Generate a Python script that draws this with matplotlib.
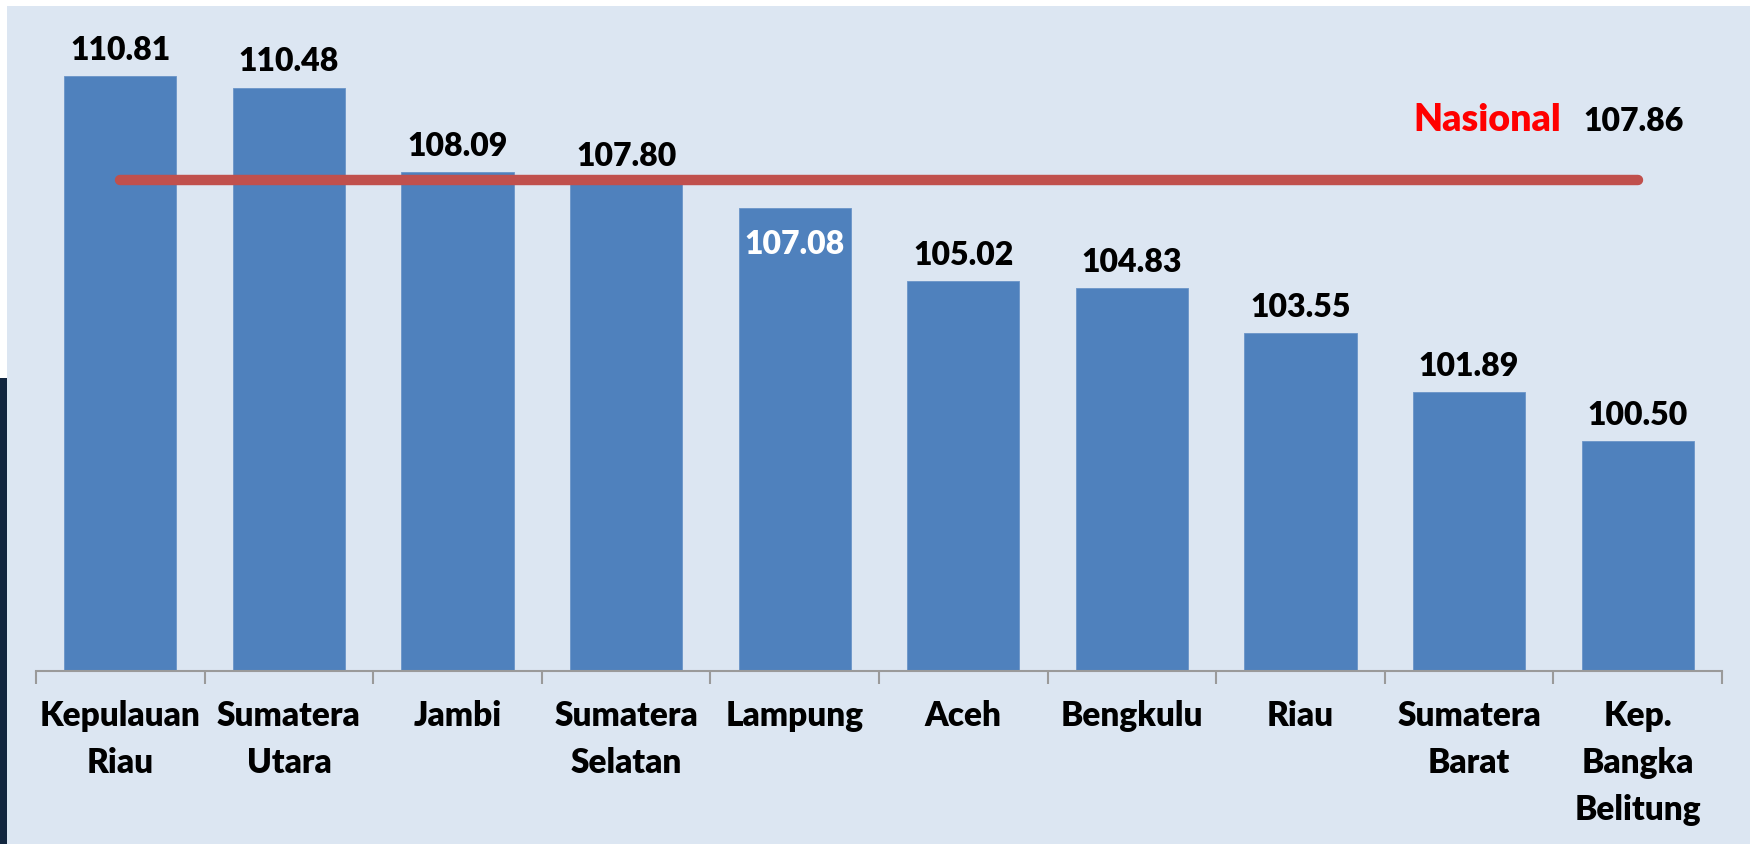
import matplotlib
matplotlib.use("Agg")
import matplotlib.pyplot as plt
from matplotlib.patches import Rectangle

categories = ["Kepulauan\nRiau", "Sumatera\nUtara", "Jambi", "Sumatera\nSelatan", "Lampung",
              "Aceh", "Bengkulu", "Riau", "Sumatera\nBarat", "Kep.\nBangka\nBelitung"]
values = [110.81, 110.48, 108.09, 107.80, 107.08, 105.02, 104.83, 103.55, 101.89, 100.50]
value_labels = ["110.81", "110.48", "108.09", "107.80", "107.08", "105.02", "104.83", "103.55", "101.89", "100.50"]
national_value = 107.86
national_label = "107.86"
inside_label_index = 4  # Lampung label drawn inside the bar

W, H = 1750, 844
plt.rcParams['font.family'] = ['Lato', 'DejaVu Sans']
WEIGHT = 'heavy'
fig = plt.figure(figsize=(W / 100, H / 100), dpi=100, facecolor='white')

bg = '#DCE6F2'
fig.patches.append(Rectangle((7 / W, 0), 1 - 7 / W, (H - 6) / H, transform=fig.transFigure,
                             facecolor=bg, edgecolor='none', zorder=-5))
fig.patches.append(Rectangle((0, 0), 7 / W, (H - 378) / H, transform=fig.transFigure,
                             facecolor='#12263F', edgecolor='none', zorder=-5))

left, right = 36 / W, 1722 / W
bottom, top = (H - 671) / H, (H - 6) / H
ax = fig.add_axes([left, bottom, right - left, top - bottom])
ax.set_zorder(5)
ax.set_facecolor('none')

ymin = 94.0
px_per_unit = 35.4
ymax = ymin + (671 - 6) / px_per_unit
ax.set_ylim(ymin, ymax)
ax.set_xlim(-0.5, len(categories) - 0.5)

x = list(range(len(categories)))
ax.bar(x, [v - ymin for v in values], bottom=ymin, width=0.665, color='#4F81BD',
       edgecolor='#6A94C8', linewidth=0.6, zorder=2)

ax.plot([0, len(categories) - 1], [national_value, national_value], color='#C0504D',
        linewidth=7.5, solid_capstyle='round', zorder=3)

for i, (v, lab) in enumerate(zip(values, value_labels)):
    if i == inside_label_index:
        ax.annotate(lab, (i, v), xytext=(0, -26), textcoords='offset points',
                    ha='center', va='center', fontsize=23, fontweight=WEIGHT, color='white', zorder=4)
    else:
        ax.annotate(lab, (i, v), xytext=(0, 8), textcoords='offset points',
                    ha='center', va='bottom', fontsize=23, fontweight=WEIGHT, color='black', zorder=4)

ax.text(7.667, ymin + (671 - 131) / px_per_unit, "Nasional", color='#FF0000', fontsize=27,
        fontweight=WEIGHT, ha='left', va='baseline', zorder=4)
ax.text(8.676, ymin + (671 - 131) / px_per_unit, national_label, color='black', fontsize=23,
        fontweight=WEIGHT, ha='left', va='baseline', zorder=4)

for s in ['top', 'right', 'left']:
    ax.spines[s].set_visible(False)
ax.spines['bottom'].set_color('#9A9A9A')
ax.spines['bottom'].set_linewidth(1.5)
ax.set_yticks([])

ax.set_xticks([i - 0.5 for i in range(len(categories) + 1)])
ax.set_xticklabels([])
ax.tick_params(axis='x', which='major', direction='out', length=9, width=1.5, color='#9A9A9A')
ax.set_xticks(x, minor=True)
ax.set_xticklabels(categories, minor=True, fontsize=24, fontweight=WEIGHT, linespacing=1.58)
ax.tick_params(axis='x', which='minor', length=0, pad=21)

fig.savefig('out.png', dpi=100, facecolor='white')
